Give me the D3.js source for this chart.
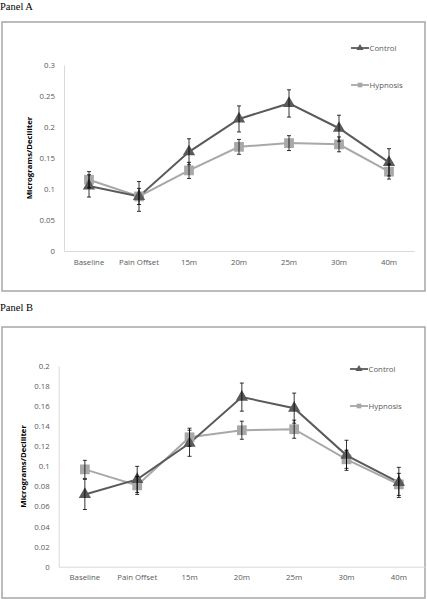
<!DOCTYPE html>
<html><head><meta charset="utf-8">
<script src="https://cdn.jsdelivr.net/npm/d3@7"></script>
<style>body{margin:0;background:#fff}svg{display:block}</style>
</head><body>
<script>
const categories = ["Baseline","Pain Offset","15m","20m","25m","30m","40m"];
const seriesNames = ["Control","Hypnosis"];
const panelA_control = [0.105,0.088,0.160,0.213,0.238,0.198,0.143];
const panelA_controlErr = [0.018,0.024,0.021,0.021,0.022,0.021,0.022];
const panelA_hypnosis = [0.115,0.088,0.130,0.168,0.174,0.172,0.128];
const panelA_hypnosisErr = [0.013,0.013,0.013,0.012,0.012,0.012,0.012];
const panelB_control = [0.072,0.087,0.123,0.169,0.158,0.111,0.084];
const panelB_controlErr = [0.015,0.013,0.013,0.014,0.015,0.015,0.015];
const panelB_hypnosis = [0.097,0.081,0.129,0.136,0.137,0.107,0.082];
const panelB_hypnosisErr = [0.009,0.009,0.009,0.009,0.009,0.009,0.011];
const panelA_ticks = [0,0.05,0.1,0.15,0.2,0.25,0.3];
const panelB_ticks = [0,0.02,0.04,0.06,0.08,0.1,0.12,0.14,0.16,0.18,0.2];
const yTitle = "Micrograms/Deciliter";

const svg = d3.select("body").append("svg").attr("width",427).attr("height",599);
const colors = {Control:"#5a5a5a", Hypnosis:"#a8a8a8"};
const tickFont = "'Open Sans', 'Liberation Sans', sans-serif";
const fs = 7.8;

function panel(cfg){
  svg.append("text").attr("x",0).attr("y",cfg.labelY).attr("font-family","'Liberation Serif', serif")
    .attr("font-size",10.5).attr("fill","#000").text(cfg.label);
  svg.append("rect").attr("x",cfg.box[0]).attr("y",cfg.box[1]).attr("width",cfg.box[2]).attr("height",cfg.box[3])
    .attr("fill","#fff").attr("stroke","#a6a6a6").attr("stroke-width",1.5);
  const x = d3.scaleBand().domain(categories).range([cfg.x0,cfg.x1]);
  const y = d3.scaleLinear().domain([0,cfg.ymax]).range([cfg.y0,cfg.y1]);
  const g = svg.append("g");
  const ya = g.append("g").attr("transform",`translate(${cfg.x0},0)`)
    .call(d3.axisLeft(y).tickValues(cfg.ticks).tickSize(0).tickPadding(cfg.yPad).tickFormat(d=>d3.format("")(+d.toFixed(2))));
  ya.select(".domain").attr("stroke","#d9d9d9");
  ya.selectAll("text").attr("font-family",tickFont).attr("font-size",fs).attr("fill","#595959");
  const xa = g.append("g").attr("transform",`translate(0,${cfg.y0})`)
    .call(d3.axisBottom(x).tickSize(0).tickPadding(8));
  xa.select(".domain").attr("stroke","#d9d9d9");
  xa.selectAll("text").attr("font-family",tickFont).attr("font-size",fs).attr("fill","#595959");
  g.append("text").attr("transform",`translate(${cfg.titleX},${(cfg.y0+cfg.y1)/2}) rotate(-90)`)
    .attr("text-anchor","middle").attr("font-family",tickFont).attr("font-weight","bold")
    .attr("font-size",fs).attr("fill","#000").text(yTitle);
  const cx = d => x(d) + x.bandwidth()/2;
  const series = [
    {name:"Hypnosis", vals:cfg.hyp, err:cfg.hypErr, sym:d3.symbolSquare, size:95},
    {name:"Control", vals:cfg.con, err:cfg.conErr, sym:d3.symbolTriangle, size:65}
  ];
  series.forEach(s=>{
    const line = d3.line().x((d,i)=>cx(categories[i])).y(d=>y(d));
    g.append("path").attr("d",line(s.vals)).attr("fill","none").attr("stroke",colors[s.name]).attr("stroke-width",2);
  });
  series.forEach(s=>{
    s.vals.forEach((v,i)=>{
      g.append("path").attr("d",d3.symbol().type(s.sym).size(s.size)())
        .attr("transform",`translate(${cx(categories[i])},${y(v)})`).attr("fill",colors[s.name]);
    });
  });
  series.forEach(s=>{
    s.vals.forEach((v,i)=>{
      const xc = cx(categories[i]), yt = y(v+s.err[i]), yb = y(v-s.err[i]);
      g.append("line").attr("x1",xc).attr("x2",xc).attr("y1",yt).attr("y2",yb).attr("stroke","#000").attr("stroke-width",0.8);
      [yt,yb].forEach(yy=>g.append("line").attr("x1",xc-2).attr("x2",xc+2).attr("y1",yy).attr("y2",yy).attr("stroke","#000").attr("stroke-width",0.8));
    });
  });
  const legSyms = {Control:[d3.symbolTriangle,22], Hypnosis:[d3.symbolSquare,22]};
  seriesNames.forEach((n,i)=>{
    const ly = cfg.legY[i];
    g.append("line").attr("x1",cfg.legX).attr("x2",cfg.legX+18).attr("y1",ly).attr("y2",ly).attr("stroke",colors[n]).attr("stroke-width",1.8);
    g.append("path").attr("d",d3.symbol().type(legSyms[n][0]).size(legSyms[n][1])()).attr("transform",`translate(${cfg.legX+9},${ly})`).attr("fill",colors[n]);
    g.append("text").attr("x",cfg.legX+18.5).attr("y",ly).attr("dy","0.35em").attr("font-family",tickFont)
      .attr("font-size",fs).attr("fill","#595959").text(n);
  });
}

panel({label:"Panel A", labelY:10, box:[2,22,423,269], x0:64, x1:414, y0:251, y1:65, ymax:0.3, yPad:9,
  ticks:panelA_ticks, con:panelA_control, conErr:panelA_controlErr, hyp:panelA_hypnosis, hypErr:panelA_hypnosisErr,
  titleX:32, legX:351, legY:[48,85]});
panel({label:"Panel B", labelY:311, box:[2,327,423,271], x0:58.7, x1:425, y0:566.7, y1:366, ymax:0.2, yPad:9,
  ticks:panelB_ticks, con:panelB_control, conErr:panelB_controlErr, hyp:panelB_hypnosis, hypErr:panelB_hypnosisErr,
  titleX:26, legX:350, legY:[369,406]});
</script>
</body></html>
